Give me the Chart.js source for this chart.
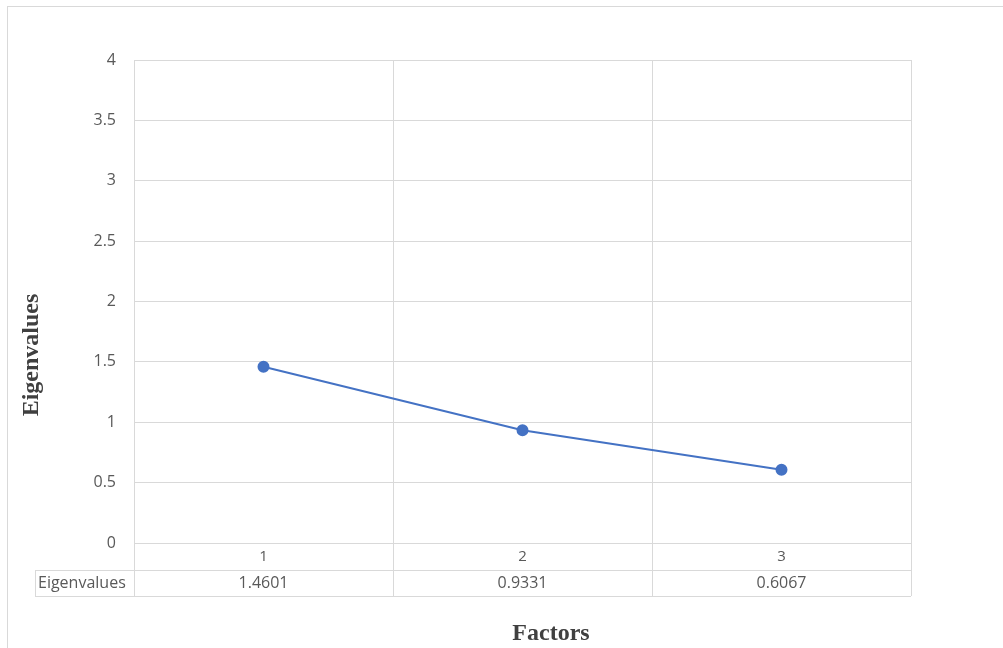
<!DOCTYPE html>
<html>
<head>
<meta charset="utf-8">
<script src="https://cdn.jsdelivr.net/npm/chart.js@4"></script>
<style>
  html, body { margin: 0; padding: 0; background: #fff; }
  #wrap { width: 1003px; height: 648px; }
</style>
</head>
<body>
<div id="wrap"><canvas id="screeChart" width="1003" height="648"></canvas></div>
<script>
const factors = ['1', '2', '3'];
const eigenvalues = [1.4601, 0.9331, 0.6067];
const eigenLabels = ['1.4601', '0.9331', '0.6067'];
const seriesName = 'Eigenvalues';

const gridColor = '#d9d9d9';
const textColor = '#595959';

// border, data table under the x axis and the two axis titles
const tablePlugin = {
    id: 'dataTable',
    afterDraw(chart) {
        const ctx = chart.ctx;
        const area = chart.chartArea;
        const n = factors.length;
        const step = (area.right - area.left) / n;
        const rowTop = area.bottom + 27;
        const rowBottom = rowTop + 26;
        const labelLeft = 35;

        ctx.save();
        ctx.strokeStyle = gridColor;
        ctx.lineWidth = 1;

        // outer chart border
        ctx.strokeRect(7.5, 6.5, 1100, 700);

        ctx.beginPath();
        // vertical lines through label row and table
        for (let i = 0; i <= n; i++) {
            const x = Math.round(area.left + i * step) + 0.5;
            ctx.moveTo(x, area.bottom);
            ctx.lineTo(x, rowBottom);
        }
        ctx.moveTo(labelLeft + 0.5, rowTop);
        ctx.lineTo(labelLeft + 0.5, rowBottom);
        ctx.moveTo(labelLeft, rowTop + 0.5);
        ctx.lineTo(area.right, rowTop + 0.5);
        ctx.moveTo(labelLeft, rowBottom + 0.5);
        ctx.lineTo(area.right, rowBottom + 0.5);
        ctx.stroke();

        // table text
        ctx.fillStyle = textColor;
        ctx.font = '16px "Open Sans", sans-serif';
        ctx.textBaseline = 'middle';
        ctx.textAlign = 'left';
        ctx.fillText(seriesName, labelLeft + 3, (rowTop + rowBottom) / 2);
        ctx.textAlign = 'center';
        eigenLabels.forEach((v, i) => {
            const x = chart.scales.x.getPixelForValue(i);
            ctx.fillText(v, x, (rowTop + rowBottom) / 2);
        });

        // axis titles
        ctx.fillStyle = '#404040';
        ctx.font = 'bold 24px "Liberation Serif", serif';
        ctx.textAlign = 'center';
        ctx.fillText('Factors', 551, 634);
        ctx.translate(32, 355);
        ctx.rotate(-Math.PI / 2);
        ctx.fillText('Eigenvalues', 0, 0);
        ctx.restore();
    }
};

const ctx = document.getElementById('screeChart').getContext('2d');
const chart = new Chart(ctx, {
    type: 'line',
    data: {
        labels: factors,
        datasets: [{
            label: seriesName,
            data: eigenvalues,
            borderColor: '#4472c4',
            backgroundColor: '#4472c4',
            borderWidth: 2,
            pointRadius: 5,
            pointHoverRadius: 5,
            tension: 0
        }]
    },
    options: {
        responsive: false,
        animation: false,
        layout: { padding: { left: 0, top: 60, right: 92, bottom: 0 } },
        plugins: {
            legend: { display: false },
            tooltip: { enabled: false }
        },
        scales: {
            x: {
                offset: true,
                grid: { offset: true, color: gridColor, drawTicks: false },
                border: { color: gridColor },
                ticks: { color: textColor, padding: 5, font: { family: 'Open Sans', size: 15 } },
                afterFit: s => { s.height = 105; }
            },
            y: {
                min: 0,
                max: 4,
                ticks: {
                    stepSize: 0.5,
                    color: textColor,
                    padding: 18,
                    font: { family: 'Open Sans', size: 16 },
                    callback: v => String(v)
                },
                grid: { color: gridColor, drawTicks: false },
                border: { color: gridColor },
                afterFit: s => { s.width = 134; }
            }
        }
    },
    plugins: [tablePlugin]
});
</script>
</body>
</html>
